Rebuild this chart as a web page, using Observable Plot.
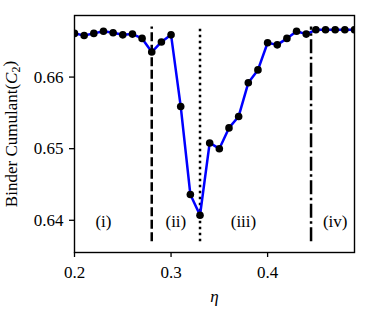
<!DOCTYPE html>
<html>
<head>
<meta charset="utf-8">
<script src="https://cdn.jsdelivr.net/npm/d3@7"></script>
<script src="https://cdn.jsdelivr.net/npm/@observablehq/plot@0.6"></script>
<style>
  html, body { margin: 0; padding: 0; background: white; }
  svg text { font-family: "Liberation Serif", serif; }
</style>
</head>
<body>
<div id="chart"></div>
<script>
const eta = [0.20, 0.21, 0.22, 0.23, 0.24, 0.25, 0.26, 0.27, 0.28, 0.29,
             0.30, 0.31, 0.32, 0.33, 0.34, 0.35, 0.36, 0.37, 0.38, 0.39,
             0.40, 0.41, 0.42, 0.43, 0.44, 0.45, 0.46, 0.47, 0.48, 0.49];
const c2 = [0.6661, 0.6658, 0.6661, 0.6664, 0.6662, 0.6659, 0.6660, 0.6654, 0.6635, 0.6649,
            0.6659, 0.6559, 0.6436, 0.6407, 0.6508, 0.6500, 0.6529, 0.6545, 0.6592, 0.6610,
            0.6648, 0.6645, 0.6654, 0.6664, 0.6660, 0.6666, 0.6666, 0.6666, 0.6666, 0.6666];
const boundaries = [0.28, 0.33, 0.445];
const boundaryY = [0.637, 0.667];
const regionLabels = ["(i)", "(ii)", "(iii)", "(iv)"];
const regionX = [0.230, 0.305, 0.375, 0.470];
const regionY = 0.6398;
const xTicks = [0.2, 0.3, 0.4];
const yTicks = [0.64, 0.65, 0.66];
const xTickLabels = ["0.2", "0.3", "0.4"];
const yTickLabels = ["0.64", "0.65", "0.66"];

const data = eta.map((e, i) => ({eta: e, c2: c2[i]}));
const regions = regionLabels.map((t, i) => ({x: regionX[i], y: regionY, t}));
const dashes = ["9,3.5", "2.5,3.5", "14,3.5,2.5,3.5"];
const serif = "'Liberation Serif', serif";

const chart = Plot.plot({
  width: 373,
  height: 315,
  marginLeft: 74,
  marginRight: 19,
  marginTop: 15,
  marginBottom: 63,
  style: {fontFamily: serif, fontSize: "17px", color: "black", background: "white"},
  x: {domain: [0.2, 0.49]},
  y: {domain: [0.6355, 0.6686]},
  marks: [
    Plot.axisX({ticks: xTicks, tickFormat: d => xTickLabels[xTicks.indexOf(d)], tickSize: 5, tickPadding: 8,
      label: "η", labelAnchor: "center", labelArrow: "none", labelOffset: 49, fontSize: 17, fontFamily: serif,
      strokeWidth: 1.3}),
    Plot.axisY({ticks: yTicks, tickFormat: d => yTickLabels[yTicks.indexOf(d)], tickSize: 5, tickPadding: 6,
      label: "Binder Cumulant(C2)", labelAnchor: "center", labelArrow: "none", labelOffset: 70, fontSize: 17,
      fontFamily: serif, strokeWidth: 1.3}),
    ...boundaries.map((b, i) => Plot.ruleX([b], {y1: boundaryY[0], y2: boundaryY[1], stroke: "black",
      strokeWidth: 2.5, strokeDasharray: dashes[i]})),
    Plot.line(data, {x: "eta", y: "c2", stroke: "#0000ff", strokeWidth: 2.5, clip: true}),
    Plot.dot(data, {x: "eta", y: "c2", r: 3.8, fill: "black", stroke: "none", clip: true}),
    Plot.text(regions, {x: "x", y: "y", text: "t", fontSize: 17, fontFamily: serif, ariaLabel: "regions", fill: "black"}),
    Plot.frame({stroke: "black", strokeWidth: 1.4})
  ]
});
document.getElementById("chart").appendChild(chart);

const svg = d3.select(chart);
svg.selectAll('g[aria-label="y-axis label"] text').each(function() {
  const t = d3.select(this);
  t.text(null);
  t.append("tspan").text("Binder Cumulant(");
  t.append("tspan").attr("font-style", "italic").text("C");
  t.append("tspan").attr("font-size", "12px").attr("dy", "0.25em").text("2");
  t.append("tspan").attr("dy", "-0.25em").text(")");
});
svg.selectAll('g[aria-label="x-axis label"] text').attr("font-style", "italic");
svg.selectAll('g[aria-label="regions"] text').each(function() {
  const t = d3.select(this);
  const s = t.text();
  const inner = s.slice(1, -1);
  t.text(null);
  t.append("tspan").text("(");
  t.append("tspan").attr("font-style", "italic").text(inner);
  t.append("tspan").text(")");
});
</script>
</body>
</html>
